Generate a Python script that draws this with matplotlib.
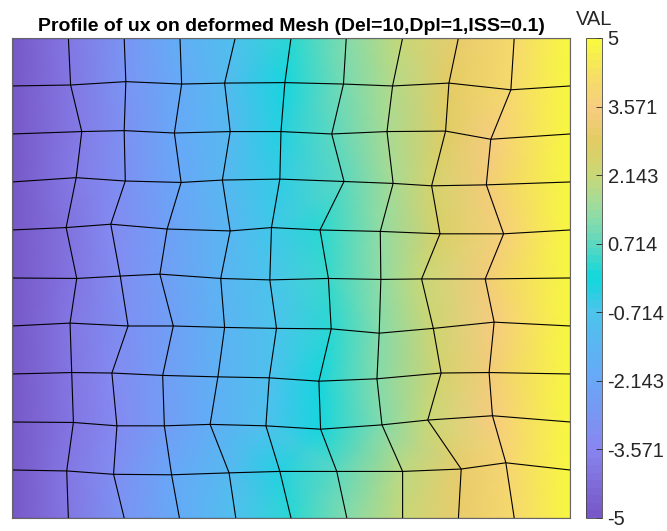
import numpy as np
import matplotlib
matplotlib.use("Agg")
import matplotlib.pyplot as plt
from matplotlib.colors import LinearSegmentedColormap

plt.rcParams['font.family'] = ['Liberation Sans', 'DejaVu Sans']

# deformed node coordinates, one row per mesh line from top (y=10) to bottom (y=0)
node_x = [
    [0, 1.01, 2.01, 3.01, 4.00, 5.00, 5.99, 7.00, 8.00, 9.00, 10],
    [0, 1.05, 2.04, 3.04, 3.81, 4.89, 5.94, 6.82, 7.83, 8.94, 10],
    [0, 1.25, 2.01, 2.91, 3.91, 4.82, 5.73, 6.72, 7.77, 8.58, 10],
    [0, 1.15, 2.03, 3.03, 3.77, 4.80, 5.95, 6.83, 7.52, 8.50, 10],
    [0, 0.97, 1.77, 2.78, 3.91, 4.65, 5.52, 6.60, 7.67, 8.81, 10],
    [0, 1.16, 1.94, 2.65, 3.74, 4.62, 5.67, 6.61, 7.34, 8.48, 10],
    [0, 1.04, 2.08, 2.89, 3.81, 4.74, 5.72, 6.58, 7.55, 8.64, 10],
    [0, 1.07, 1.79, 2.70, 3.69, 4.61, 5.50, 6.54, 7.69, 8.55, 10],
    [0, 1.10, 1.88, 2.73, 3.55, 4.55, 5.53, 6.63, 7.45, 8.61, 10],
    [0, 0.98, 1.82, 2.86, 3.89, 4.80, 5.82, 7.00, 8.05, 8.85, 10],
    [0, 1.01, 2.01, 3.00, 4.01, 5.00, 6.00, 7.00, 8.00, 9.00, 10],
]
node_y = [
    [10, 10, 10, 10, 10, 10, 10, 10, 10, 10, 10],
    [9, 9.02, 9.09, 9.04, 9.06, 9.07, 9.04, 9.00, 9.06, 8.92, 9],
    [8, 8.05, 8.07, 8.02, 8.05, 8.05, 8.00, 8.05, 8.06, 7.89, 8],
    [7, 7.09, 7.02, 6.99, 7.04, 7.06, 7.01, 6.97, 6.92, 6.94, 7],
    [6, 6.05, 6.12, 6.02, 5.98, 6.05, 6.00, 5.97, 5.92, 5.92, 6],
    [5, 4.99, 5.04, 5.08, 4.99, 4.96, 4.99, 4.97, 4.98, 4.98, 5],
    [4, 4.06, 4.00, 4.00, 3.97, 3.95, 3.94, 3.85, 3.95, 4.08, 4],
    [3, 3.03, 3.02, 2.97, 2.94, 2.92, 2.85, 2.90, 3.02, 3.03, 3],
    [2, 1.99, 1.92, 1.92, 1.95, 1.92, 1.85, 1.94, 2.04, 2.13, 2],
    [1, 0.98, 0.91, 0.90, 0.94, 0.97, 0.97, 0.97, 1.02, 1.15, 1],
    [0, 0, 0, 0, 0, 0, 0, 0, 0, 0, 0],
]
# ux at each node
ux = [
    [-5, -3.95, -2.90, -1.86, -0.84, 0.19, 1.14, 2.12, 3.07, 4.04, 5],
    [-5, -3.94, -2.94, -1.93, -1.16, -0.06, 0.98, 1.85, 2.85, 3.95, 5],
    [-5, -3.78, -3.03, -2.15, -1.17, -0.27, 0.64, 1.65, 2.73, 3.56, 5],
    [-5, -3.90, -3.05, -2.09, -1.38, -0.38, 0.78, 1.70, 2.42, 3.43, 5],
    [-5, -4.09, -3.33, -2.37, -1.31, -0.61, 0.23, 1.38, 2.52, 3.73, 5],
    [-5, -3.92, -3.19, -2.52, -1.50, -0.68, 0.34, 1.35, 2.14, 3.36, 5],
    [-5, -4.05, -3.09, -2.35, -1.51, -0.65, 0.29, 1.24, 2.31, 3.51, 5],
    [-5, -4.04, -3.39, -2.57, -1.68, -0.85, -0.04, 1.11, 2.40, 3.38, 5],
    [-5, -4.01, -3.31, -2.54, -1.80, -0.90, -0.02, 1.21, 2.13, 3.44, 5],
    [-5, -4.03, -3.20, -2.17, -1.14, -0.24, 0.78, 1.97, 3.03, 3.84, 5],
    [-5, -3.95, -2.91, -1.88, -0.82, 0.19, 1.15, 2.12, 3.07, 4.04, 5],
]

cbar_ticks = [-5, -3.571, -2.143, -0.714, 0.714, 2.143, 3.571, 5]
cbar_labels = ['-5', '-3.571', '-2.143', '-0.714', '0.714', '2.143', '3.571', '5']

# colour stops from -5 up to 5
cmap_stops = [0.0, 0.143, 0.286, 0.43, 0.5, 0.571, 0.643, 0.714, 0.786, 0.857, 0.93, 1.0]
cmap_colors = ['#7858c8', '#8886f0', '#68a8f8', '#4cc4ec', '#10d8dc', '#5cd8c0',
               '#98dca0', '#c8d878', '#e2cc62', '#f6cc80', '#f6e064', '#f8f840']

X = np.array(node_x)
Y = np.array(node_y)
U = np.array(ux)

cmap = LinearSegmentedColormap.from_list('val', list(zip(cmap_stops, cmap_colors)), N=64)

fig = plt.figure(figsize=(6.67, 5.31), dpi=100)
ax = fig.add_axes([0.018, 0.0245, 0.8366, 0.904])
mesh = ax.pcolormesh(X, Y, U, shading='gouraud', cmap=cmap, vmin=-5, vmax=5)

# element edges
ax.plot(X, Y, color='black', lw=0.8)
ax.plot(X.T, Y.T, color='black', lw=0.8)

ax.set_xlim(0, 10)
ax.set_ylim(0, 10)
ax.set_xticks([])
ax.set_yticks([])
for s in ax.spines.values():
    s.set_color('#666666')
    s.set_linewidth(0.8)
ax.set_title('Profile of ux on deformed Mesh (Del=10,Dpl=1,ISS=0.1)',
             fontsize=14, fontweight='bold', pad=5)

cax = fig.add_axes([0.8786, 0.0245, 0.024, 0.904])
cb = fig.colorbar(mesh, cax=cax, ticks=cbar_ticks)
cb.ax.set_yticklabels(cbar_labels)
cb.ax.tick_params(direction='in', length=4, width=0.6, labelsize=14.5,
                  colors='#262626', pad=4)
cb.outline.set_edgecolor('#444444')
cb.outline.set_linewidth(0.6)
cax.set_title('VAL', fontsize=14.5, color='#262626', pad=9)

fig.savefig('out.png', dpi=100)
